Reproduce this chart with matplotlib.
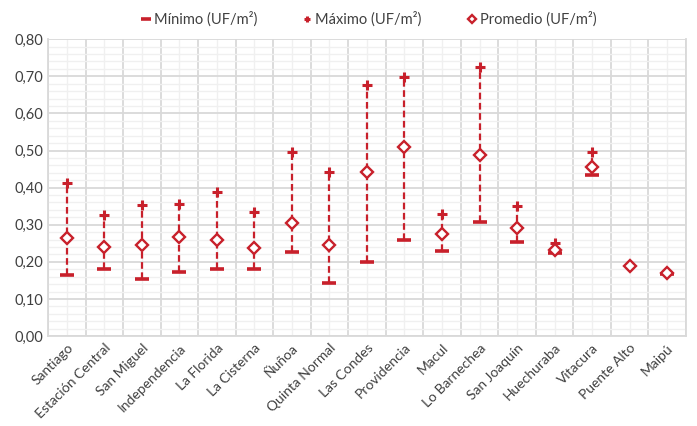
import numpy as np
import matplotlib.pyplot as plt
from matplotlib.ticker import MultipleLocator, FuncFormatter

plt.rcParams['font.family'] = ['Lato', 'DejaVu Sans']

comunas = ['Santiago', 'Estación Central', 'San Miguel', 'Independencia', 'La Florida',
           'La Cisterna', 'Ñuñoa', 'Quinta Normal', 'Las Condes', 'Providencia', 'Macul',
           'Lo Barnechea', 'San Joaquín', 'Huechuraba', 'Vitacura', 'Puente Alto', 'Maipú']
minimo = [0.165, 0.180, 0.153, 0.174, 0.181, 0.181, 0.226, 0.142, 0.201, 0.258, 0.230,
          0.308, 0.254, 0.223, 0.434, np.nan, 0.168]
maximo = [0.413, 0.327, 0.354, 0.357, 0.387, 0.334, 0.496, 0.442, 0.676, 0.699, 0.330,
          0.726, 0.351, 0.250, 0.495, np.nan, 0.174]
promedio = [0.265, 0.241, 0.246, 0.268, 0.259, 0.237, 0.306, 0.246, 0.442, 0.509, 0.275,
            0.488, 0.290, 0.233, 0.456, 0.190, 0.171]

red = '#c8202b'
x = np.arange(len(comunas))

fig = plt.figure(figsize=(6.97, 4.26), dpi=100)
ax = fig.add_axes([0.069, 0.211, 0.915, 0.697])

# lineas de rango
ax.vlines(x, minimo, maximo, colors=red, linestyles=(0, (3, 1.6)), lw=1.6, zorder=2)
ax.plot(x, minimo, ls='none', marker='_', ms=10, mew=2.6, color=red,
        label='Mínimo (UF/m²)', zorder=3)
ax.plot(x, maximo, ls='none', marker='+', ms=7, mew=2.2, color=red,
        label='Máximo (UF/m²)', zorder=3)
ax.plot(x, promedio, ls='none', marker='D', ms=6, mew=1.7, mfc='white', mec=red,
        label='Promedio (UF/m²)', zorder=4)

ax.set_xlim(-0.5, len(comunas) - 0.5)
ax.set_ylim(0, 0.8)
ax.set_xticks(x)
ax.set_xticks(np.arange(-0.5, len(comunas), 1), minor=True)
ax.set_xticklabels(comunas, rotation=45, ha='right', rotation_mode='anchor',
                   fontsize=10, color='#404040')
ax.yaxis.set_major_locator(MultipleLocator(0.1))
ax.yaxis.set_minor_locator(MultipleLocator(0.02))
ax.yaxis.set_major_formatter(FuncFormatter(lambda v, p: f'{v:.2f}'.replace('.', ',')))
ax.tick_params(axis='y', labelsize=10.5, colors='#404040', length=0, which='both')
ax.tick_params(axis='x', length=0, which='both', pad=4)

ax.grid(which='major', axis='y', color='#d9d9d9', lw=1.3, zorder=0)
ax.grid(which='minor', axis='y', color='#f0f0f0', lw=1.0, zorder=0)
ax.grid(which='minor', axis='x', color='#d9d9d9', lw=1.3, zorder=0)
ax.grid(which='major', axis='x', color='#f0f0f0', lw=1.0, zorder=0)
ax.set_axisbelow(True)
ax.spines['top'].set_visible(False)
for s in ['left', 'bottom', 'right']:
    ax.spines[s].set_color('#d9d9d9')
    ax.spines[s].set_linewidth(1.3)

leg = fig.legend(loc='center', bbox_to_anchor=(0.53, 0.955), ncol=3, frameon=False,
                 fontsize=10.5, handlelength=0.5, handletextpad=0.3, columnspacing=3.2,
                 markerscale=0.7)
for t in leg.get_texts():
    t.set_color('#404040')

fig.savefig('out.png', dpi=100)
